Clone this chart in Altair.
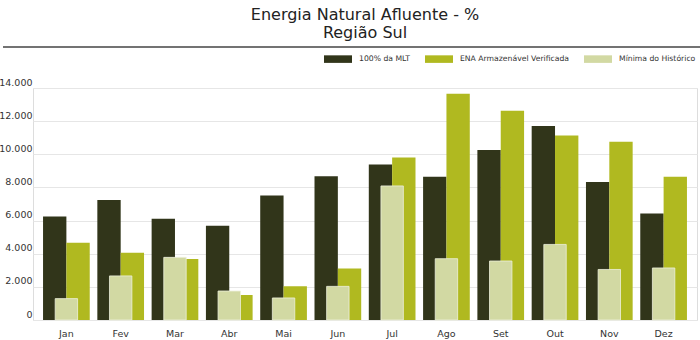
import altair as alt
import pandas as pd

months = ["Jan", "Fev", "Mar", "Abr", "Mai", "Jun", "Jul", "Ago", "Set", "Out", "Nov", "Dez"]
series_names = ["100% da MLT", "ENA Armazenável Verificada", "Mínima do Histórico"]
mlt = [6250, 7240, 6110, 5690, 7520, 8670, 9390, 8650, 10260, 11710, 8330, 6430]
ena = [4660, 4060, 3680, 1510, 2030, 3110, 9810, 13660, 12630, 11140, 10760, 8650]
minimo = [1290, 2660, 3780, 1750, 1330, 2030, 8090, 3700, 3560, 4560, 3050, 3140]
colors = ["#31351a", "#b0b920", "#d2d9a3"]
title_lines = ["Energia Natural Afluente - %", "Região Sul"]

rows = []
for name, vals in zip(series_names, [mlt, ena, minimo]):
    for m, v in zip(months, vals):
        rows.append({"Mes": m, "Serie": name, "Valor": v})
df = pd.DataFrame(rows)

FONT = "DejaVu Sans"

color_enc = alt.Color(
    "Serie:N",
    scale=alt.Scale(domain=series_names, range=colors),
    legend=alt.Legend(
        orient="none", legendX=291, legendY=-43, direction="horizontal", title=None,
        symbolType="M-1,-0.27L1,-0.27L1,0.27L-1,0.27Z", symbolSize=784,
        symbolStrokeWidth=0, labelFont=FONT, labelFontSize=7.7, labelColor="#333333",
        labelOffset=7, columnPadding=14,
    ),
)

x_enc = alt.X(
    "Mes:N", sort=months, title=None,
    scale=alt.Scale(paddingInner=0.14, paddingOuter=0.185),
    axis=alt.Axis(labelAngle=0, ticks=False, domain=False, labelFont=FONT,
                  labelFontSize=9.5, labelColor="#333333", labelPadding=8),
)
y_enc = alt.Y(
    "Valor:Q", title=None,
    scale=alt.Scale(domain=[0, 14000], nice=False),
    axis=alt.Axis(values=[0, 2000, 4000, 6000, 8000, 10000, 12000, 14000],
                  labelExpr="replace(format(datum.value, ','), ',', '.')",
                  ticks=False, domain=False, labelFont=FONT, labelFontSize=9.5,
                  labelColor="#333333", labelPadding=1, labelBaseline="bottom",
                  labelOffset=-1, gridColor="#e6e6e6", gridWidth=1),
)

main = alt.Chart(df).transform_filter(
    alt.FieldOneOfPredicate(field="Serie", oneOf=series_names[:2])
).mark_bar().encode(
    x=x_enc,
    xOffset=alt.XOffset("Serie:N", sort=series_names[:2],
                        scale=alt.Scale(domain=series_names[:2], paddingInner=0, paddingOuter=0)),
    y=y_enc,
    color=color_enc,
)

light = alt.Chart(df).transform_filter(
    alt.FieldEqualPredicate(field="Serie", equal=series_names[2])
).mark_bar(width=alt.RelativeBandSize(0.48), stroke="#eef0dc", strokeWidth=0.8).encode(
    x=x_enc,
    y=y_enc,
    color=color_enc,
)

rule = alt.Chart(pd.DataFrame({"a": [0]})).mark_rule(color="#444444", strokeWidth=1.5).encode(
    x=alt.value(-30), x2=alt.value(667), y=alt.value(-41)
)

chart = alt.layer(main, light, rule).properties(
    width=664, height=232,
    autosize=alt.AutoSizeParams(type="none"),
    padding={"left": 33, "top": 88, "right": 3, "bottom": 20},
    title=alt.TitleParams(text=title_lines, font=FONT, fontSize=16, fontWeight="normal",
                          color="#222222", anchor="middle", offset=4, lineHeight=18),
).configure_view(stroke=None).configure(background="white")

chart.save("out.html", embed_options={"renderer": "svg", "actions": False})
